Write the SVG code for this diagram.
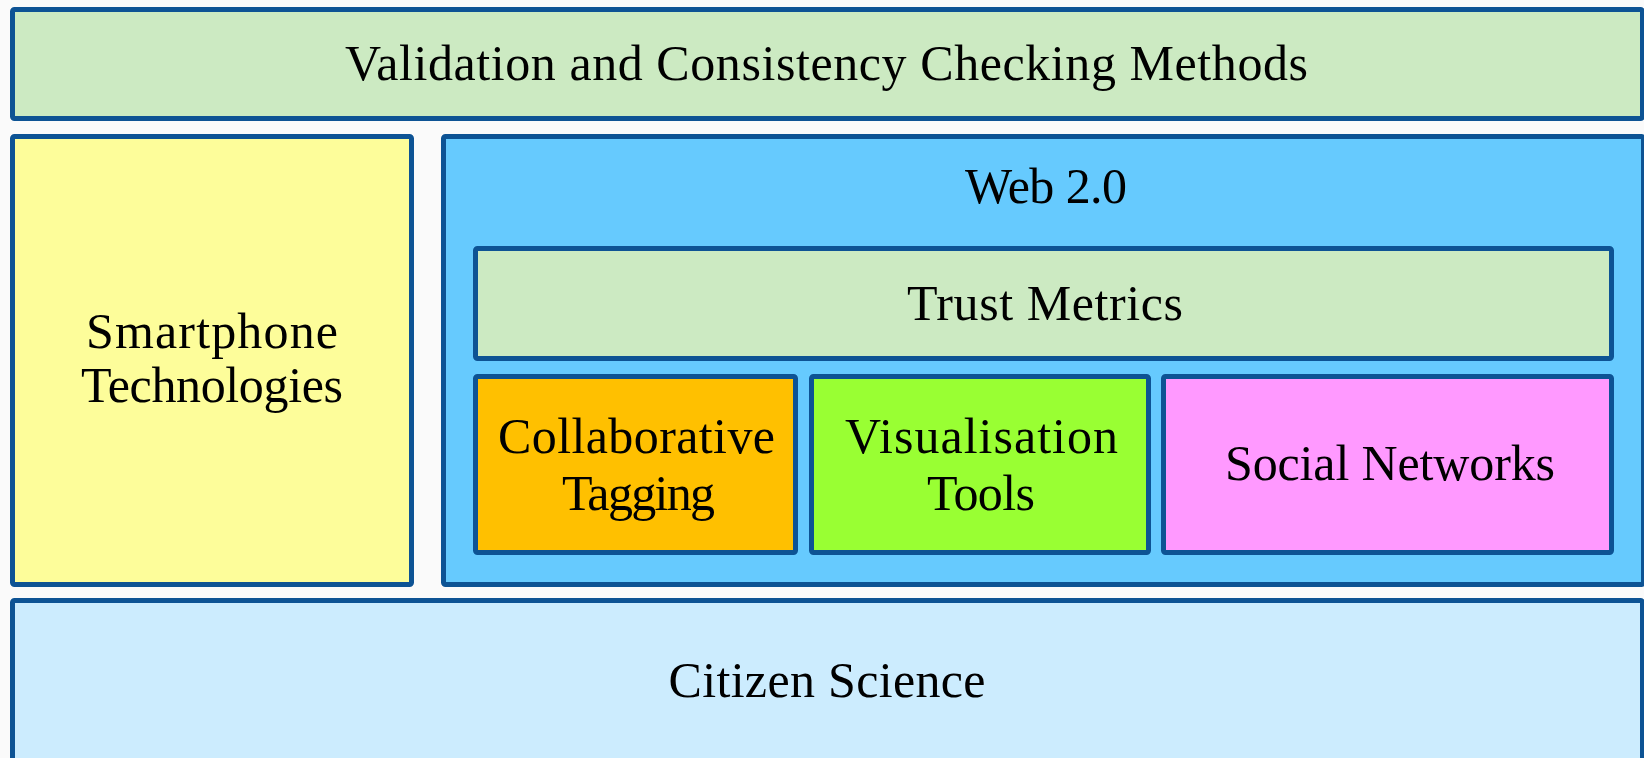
<svg xmlns="http://www.w3.org/2000/svg" width="1644" height="758" viewBox="0 0 1644 758">
<style>
.box{stroke:#0D5394;stroke-width:5;}
.t{font-family:"Liberation Serif","Times New Roman",serif;font-size:50px;fill:#000;text-anchor:middle;}
</style>
<rect x="0" y="0" width="1644" height="758" fill="#FAFAFA"/>
<g id="validation">
<rect class="box" x="12.5" y="9.5" width="1630" height="109" rx="2" fill="#CCEAC2"/>
<text class="t" x="826.5" y="80" textLength="963">Validation and Consistency Checking Methods</text>
</g>
<g id="smartphone">
<rect class="box" x="12.5" y="136.5" width="399" height="448" rx="2" fill="#FDFD9A"/>
<text class="t" x="212" y="348" textLength="252">Smartphone</text>
<text class="t" x="212" y="402" textLength="262">Technologies</text>
</g>
<g id="web20">
<rect class="box" x="443.5" y="136.5" width="1200" height="448" rx="2" fill="#66CAFE"/>
<text class="t" x="1046" y="203" textLength="162">Web 2.0</text>
</g>
<g id="trust">
<rect class="box" x="475.5" y="248.5" width="1136" height="110" rx="2" fill="#CCEAC2"/>
<text class="t" x="1045" y="320" textLength="276">Trust Metrics</text>
</g>
<g id="tagging">
<rect class="box" x="475.5" y="376.5" width="320" height="176" rx="2" fill="#FFC000"/>
<text class="t" x="636.5" y="453" textLength="277">Collaborative</text>
<text class="t" x="638.5" y="510" textLength="153">Tagging</text>
</g>
<g id="visualisation">
<rect class="box" x="811.5" y="376.5" width="337" height="176" rx="2" fill="#99FF33"/>
<text class="t" x="981.5" y="453" textLength="273">Visualisation</text>
<text class="t" x="981" y="510" textLength="108">Tools</text>
</g>
<g id="social">
<rect class="box" x="1163.5" y="376.5" width="448" height="176" rx="2" fill="#FF99FF"/>
<text class="t" x="1390" y="480" textLength="330">Social Networks</text>
</g>
<g id="citizen">
<rect class="box" x="12.5" y="600.5" width="1630" height="200" rx="2" fill="#CCECFE"/>
<text class="t" x="827" y="697" textLength="317">Citizen Science</text>
</g>
<g id="connectors"></g>
</svg>
